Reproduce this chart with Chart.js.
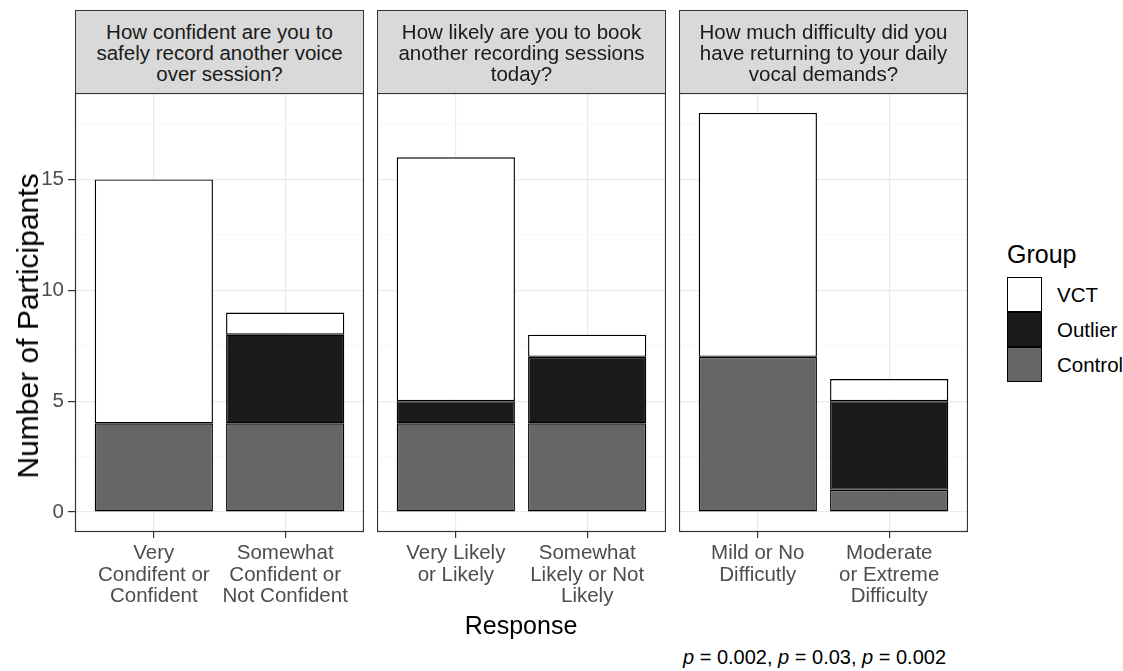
<!DOCTYPE html>
<html>
<head>
<meta charset="utf-8">
<script src="https://cdn.jsdelivr.net/npm/chart.js@4/dist/chart.umd.min.js"></script>
<style>
    body { margin: 0; background: #fff; }
    #fig { position: relative; width: 1123px; height: 671px; overflow: hidden; font-family: "Liberation Sans", Arial, sans-serif; background: #fff; }
    canvas { position: absolute; }
    .strip { position: absolute; top: 10px; height: 84px; box-sizing: border-box; background: #d9d9d9; border: 1px solid #333; color: #1a1a1a; font-size: 20.5px; line-height: 21px; display: flex; align-items: center; justify-content: center; text-align: center; }
    .txt { position: absolute; white-space: nowrap; }
    .key { position: absolute; left: 1007px; width: 35px; height: 35px; box-sizing: border-box; border: 1px solid #000; }
</style>
</head>
<body>
<div id="fig">
    <canvas id="panel0" width="364" height="519" style="left:0px; top:93px;"></canvas>
    <canvas id="panel1" width="289" height="519" style="left:377px; top:93px;"></canvas>
    <canvas id="panel2" width="289" height="519" style="left:679px; top:93px;"></canvas>
    <div id="strips"></div>
    <div class="txt" style="left:28px; top:326px; transform: translate(-50%, -50%) rotate(-90deg); font-size: 30px; color:#000;">Number of Participants</div>
    <div class="txt" style="left:521px; top:625px; transform: translate(-50%, -50%); font-size: 25px; color:#000;">Response</div>
    <div class="txt" style="left:1007px; top:240px; font-size: 25px; line-height: 28px; color:#000;">Group</div>
    <div id="legend"></div>
    <div class="txt" style="left:683px; top:657px; transform: translateY(-50%); font-size: 20px; color:#000;"><i>p</i> = 0.002, <i>p</i> = 0.03, <i>p</i> = 0.002</div>
</div>
<script>
// facet titles
const panelTitles = [
    ['How confident are you to', 'safely record another voice', 'over session?'],
    ['How likely are you to book', 'another recording sessions', 'today?'],
    ['How much difficulty did you', 'have returning to your daily', 'vocal demands?']
];

// response categories per facet (multi-line tick labels)
const responses = [
    [['Very', 'Condifent or', 'Confident'], ['Somewhat', 'Confident or', 'Not Confident']],
    [['Very Likely', 'or Likely'], ['Somewhat', 'Likely or Not', 'Likely']],
    [['Mild or No', 'Difficutly'], ['Moderate', 'or Extreme', 'Difficulty']]
];

// counts per facet, stacked bottom to top: Control, Outlier, VCT
const controlCounts = [[4, 4], [4, 4], [7, 1]];
const outlierCounts = [[0, 4], [1, 3], [0, 4]];
const vctCounts = [[11, 1], [11, 1], [11, 1]];

const yTicks = [0, 2.5, 5, 7.5, 10, 12.5, 15, 17.5];

const groupNames = ['Control', 'Outlier', 'VCT'];
const groupColors = ['#666666', '#1a1a1a', '#ffffff'];
const groupCounts = [controlCounts, outlierCounts, vctCounts];

const FONT = '"Liberation Sans", Arial, sans-serif';
const panelLefts = [75, 377, 679];
const panelWidth = 289;

// strips
const strips = document.getElementById('strips');
panelTitles.forEach((lines, i) => {
    const d = document.createElement('div');
    d.className = 'strip';
    d.style.left = panelLefts[i] + 'px';
    d.style.width = panelWidth + 'px';
    d.innerHTML = lines.join('<br>');
    strips.appendChild(d);
});

// legend, VCT on top like ggplot's reversed stack
const legend = document.getElementById('legend');
['VCT', 'Outlier', 'Control'].forEach((name, k) => {
    const idx = groupNames.indexOf(name);
    const top = 277 + k * 35;
    legend.innerHTML += `<div class="key" style="top:${top}px; background:${groupColors[idx]};"></div>` +
        `<div class="txt" style="left:1057px; top:${top + 17.5}px; transform: translateY(-50%); font-size: 20.5px; color:#000;">${name}</div>`;
});

const panelBorder = {
    id: 'panelBorder',
    afterDraw(chart) {
        const a = chart.chartArea;
        const ctx = chart.ctx;
        ctx.save();
        ctx.strokeStyle = '#333333';
        ctx.lineWidth = 1.2;
        ctx.strokeRect(a.left + 0.5, a.top + 0.5, a.right - a.left - 1, a.bottom - a.top - 1);
        ctx.restore();
    }
};

const isMajor = (c) => c.tick && c.tick.value % 5 === 0;
const noPad = (s) => { s.paddingTop = 0; s.paddingBottom = 0; s.paddingLeft = 0; s.paddingRight = 0; };

const makePanel = (i) => {
    const axisW = i === 0 ? 75 : 0;
    const datasets = groupNames.map((name, g) => ({
        label: name,
        data: groupCounts[g][i].map((v, k) => ({ x: k + 1, y: v === 0 ? null : v })),
        backgroundColor: groupColors[g],
        borderColor: '#000000',
        borderWidth: 1.4,
        borderSkipped: false,
        categoryPercentage: 0.9,
        barPercentage: 1.0
    }));

    new Chart(document.getElementById('panel' + i), {
        type: 'bar',
        data: { datasets },
        plugins: [panelBorder],
        options: {
            responsive: false,
            animation: false,
            devicePixelRatio: 1,
            layout: { padding: 0 },
            plugins: { legend: { display: false }, tooltip: { enabled: false } },
            scales: {
                x: {
                    type: 'linear',
                    min: 0.4,
                    max: 2.6,
                    offset: false,
                    stacked: true,
                    afterFit: (s) => { s.height = 80; noPad(s); },
                    afterBuildTicks: (s) => { s.ticks = responses[i].map((_, k) => ({ value: k + 1 })); },
                    ticks: {
                        callback: (v) => responses[i][v - 1],
                        color: '#4d4d4d',
                        font: { family: FONT, size: 20.5, lineHeight: 1.05 },
                        padding: 5,
                        maxRotation: 0,
                        autoSkip: false
                    },
                    grid: { offset: false, color: '#ebebeb', lineWidth: 1.2, tickColor: '#333333', tickLength: 6, tickWidth: 1.2 },
                    border: { display: false }
                },
                y: {
                    min: -0.9,
                    max: 18.9,
                    stacked: true,
                    afterFit: (s) => { s.width = axisW; noPad(s); },
                    afterBuildTicks: (s) => { s.ticks = yTicks.map(v => ({ value: v })); },
                    ticks: {
                        display: i === 0,
                        callback: (v) => v % 5 === 0 ? String(v) : '',
                        color: '#4d4d4d',
                        font: { family: FONT, size: 20.5 },
                        padding: 4
                    },
                    grid: {
                        color: (c) => isMajor(c) ? '#ebebeb' : '#f4f4f4',
                        lineWidth: (c) => isMajor(c) ? 1.2 : 0.6,
                        tickColor: (c) => isMajor(c) ? '#333333' : 'rgba(0,0,0,0)',
                        tickLength: 7,
                        tickWidth: 1.2,
                        drawTicks: i === 0
                    },
                    border: { display: false }
                }
            }
        }
    });
};

[0, 1, 2].forEach(makePanel);
</script>
</body>
</html>
